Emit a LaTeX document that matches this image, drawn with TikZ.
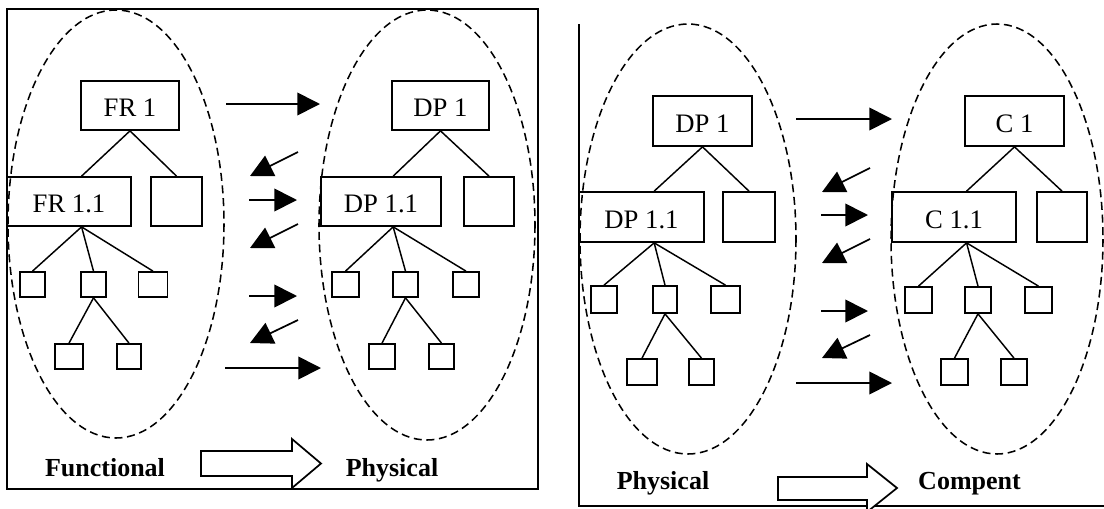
\documentclass[tikz,border=0pt]{standalone}
\usepackage{fontspec}
\setmainfont{Liberation Serif}
\usetikzlibrary{arrows.meta,calc}

\begin{document}
\begin{tikzpicture}[x=0.75pt,y=-0.75pt,
  box/.style={draw, line width=1.3pt, inner sep=0pt, text height=17pt, text depth=0pt,
              font=\fontsize{20}{22}\selectfont},
  sz/.style 2 args={minimum width=#1*0.75pt, minimum height=#2*0.75pt},
  link/.style={line width=1.1pt},
  zone/.style={draw, dash pattern=on 6pt off 3.5pt, line width=1.15pt},
  map/.style={line width=1.3pt, -{Triangle[length=17pt,width=17pt]}},
  caption/.style={font=\fontsize{19.5}{22}\selectfont\bfseries, anchor=base, inner sep=0pt},
  frame/.style={line width=1.5pt},
  bigarrow/.style={draw, fill=white, line width=1.3pt, line join=miter}
]
\useasboundingbox (0,0) rectangle (1104,508);

% ---------- frames ----------
\draw[frame] (7,9) rectangle (538,489);
\draw[frame] (579,24) -- (579,506) -- (1106,506);

% ---------- dashed domains ----------
\draw[zone] (116,224) ellipse [x radius=108, y radius=214];
\draw[zone] (427,225) ellipse [x radius=108, y radius=215];
\draw[zone] (688,239) ellipse [x radius=108, y radius=215];
\draw[zone] (997,239) ellipse [x radius=106, y radius=215];

% ---------- FR hierarchy ----------
\node[box, sz={98}{49}]  (fr1)  at (130,105.5)   {FR 1};
\node[box, sz={124}{49}] (fr11) at (69,201.5)    {FR 1.1};
\node[box, sz={51}{49}]  (fre)  at (176.5,201.5) {};
\node[box, sz={25}{25}]  (f1)   at (32.5,284.5)  {};
\node[box, sz={25}{25}]  (f2)   at (93.5,284.5)  {};
\node[box, sz={29}{25}]  (f3)   at (153,284.5)   {};
\node[box, sz={28}{25}]  (f4)   at (69,356.5)    {};
\node[box, sz={24}{25}]  (f5)   at (129,356.5)   {};
\draw[link] (fr1.south) -- ($(fr11.north west)!0.6!(fr11.north east)$);
\draw[link] (fr1.south) -- (fre.north);
\draw[link] ($(fr11.south west)!0.6!(fr11.south east)$) -- (f1.north);
\draw[link] ($(fr11.south west)!0.6!(fr11.south east)$) -- (f2.north);
\draw[link] ($(fr11.south west)!0.6!(fr11.south east)$) -- (f3.north);
\draw[link] (f2.south) -- (f4.north);
\draw[link] (f2.south) -- (f5.north);

% ---------- DP hierarchy (left panel) ----------
\node[box, sz={97}{49}]  (dp1)  at (440.5,105.5) {DP 1};
\node[box, sz={120}{49}] (dp11) at (381,201.5)   {DP 1.1};
\node[box, sz={50}{49}]  (dpe)  at (489,201.5)   {};
\node[box, sz={27}{25}]  (d1)   at (345.5,284.5) {};
\node[box, sz={25}{25}]  (d2)   at (405.5,284.5) {};
\node[box, sz={26}{25}]  (d3)   at (466,284.5)   {};
\node[box, sz={26}{25}]  (d4)   at (382,356.5)   {};
\node[box, sz={25}{25}]  (d5)   at (441.5,356.5) {};
\draw[link] (dp1.south) -- ($(dp11.north west)!0.6!(dp11.north east)$);
\draw[link] (dp1.south) -- (dpe.north);
\draw[link] ($(dp11.south west)!0.6!(dp11.south east)$) -- (d1.north);
\draw[link] ($(dp11.south west)!0.6!(dp11.south east)$) -- (d2.north);
\draw[link] ($(dp11.south west)!0.6!(dp11.south east)$) -- (d3.north);
\draw[link] (d2.south) -- (d4.north);
\draw[link] (d2.south) -- (d5.north);

% ---------- DP hierarchy (right panel) ----------
\node[box, sz={99}{50}]  (rdp1)  at (702.5,121) {DP 1};
\node[box, sz={125}{50}] (rdp11) at (641.5,217) {DP 1.1};
\node[box, sz={52}{50}]  (rdpe)  at (749,217)   {};
\node[box, sz={26}{27}]  (r1)    at (604,299.5)   {};
\node[box, sz={24}{27}]  (r2)    at (665,299.5)   {};
\node[box, sz={29}{27}]  (r3)    at (725.5,299.5) {};
\node[box, sz={30}{26}]  (r4)    at (642,372)     {};
\node[box, sz={25}{26}]  (r5)    at (701.5,372)   {};
\draw[link] (rdp1.south) -- ($(rdp11.north west)!0.6!(rdp11.north east)$);
\draw[link] (rdp1.south) -- (rdpe.north);
\draw[link] ($(rdp11.south west)!0.6!(rdp11.south east)$) -- (r1.north);
\draw[link] ($(rdp11.south west)!0.6!(rdp11.south east)$) -- (r2.north);
\draw[link] ($(rdp11.south west)!0.6!(rdp11.south east)$) -- (r3.north);
\draw[link] (r2.south) -- (r4.north);
\draw[link] (r2.south) -- (r5.north);

% ---------- component hierarchy ----------
\node[box, sz={99}{50}]  (c1)  at (1014.5,121) {C 1\hspace{13pt}};
\node[box, sz={124}{50}] (c11) at (954,217)    {C 1.1\hspace{14pt}};
\node[box, sz={50}{50}]  (ce)  at (1062,217)   {};
\node[box, sz={27}{26}]  (k1)  at (918.5,300)  {};
\node[box, sz={26}{26}]  (k2)  at (978,300)    {};
\node[box, sz={27}{26}]  (k3)  at (1038.5,300) {};
\node[box, sz={27}{26}]  (k4)  at (954.5,372)  {};
\node[box, sz={26}{26}]  (k5)  at (1014,372)   {};
\draw[link] (c1.south) -- ($(c11.north west)!0.6!(c11.north east)$);
\draw[link] (c1.south) -- (ce.north);
\draw[link] ($(c11.south west)!0.6!(c11.south east)$) -- (k1.north);
\draw[link] ($(c11.south west)!0.6!(c11.south east)$) -- (k2.north);
\draw[link] ($(c11.south west)!0.6!(c11.south east)$) -- (k3.north);
\draw[link] (k2.south) -- (k4.north);
\draw[link] (k2.south) -- (k5.north);

% ---------- mapping arrows, left panel ----------
\coordinate (la1s) at (226,104);   \coordinate (la1e) at (320,104);
\coordinate (la2s) at (298,152);   \coordinate (la2e) at (250,176);
\coordinate (la3s) at (249,200);   \coordinate (la3e) at (297,200);
\coordinate (la4s) at (298,224);   \coordinate (la4e) at (250,248);
\coordinate (la5s) at (249,296);   \coordinate (la5e) at (297,296);
\coordinate (la6s) at (298,320);   \coordinate (la6e) at (250,343);
\coordinate (la7s) at (225,368);   \coordinate (la7e) at (321,368);
\foreach \n in {1,...,7} \draw[map] (la\n s) -- (la\n e);

% ---------- mapping arrows, right panel ----------
\coordinate (ra1s) at (796,119);   \coordinate (ra1e) at (892,119);
\coordinate (ra2s) at (870,168);   \coordinate (ra2e) at (822,192);
\coordinate (ra3s) at (821,215);   \coordinate (ra3e) at (868,215);
\coordinate (ra4s) at (870,239);   \coordinate (ra4e) at (822,263);
\coordinate (ra5s) at (821,311);   \coordinate (ra5e) at (868,311);
\coordinate (ra6s) at (870,335);   \coordinate (ra6e) at (822,358);
\coordinate (ra7s) at (796,383);   \coordinate (ra7e) at (892,383);
\foreach \n in {1,...,7} \draw[map] (ra\n s) -- (ra\n e);

% ---------- hollow block arrows ----------
\draw[bigarrow] (201,451) -- (292,451) -- (292,439) -- (321,463.5) -- (292,488)
  -- (292,476) -- (201,476) -- cycle;
\draw[bigarrow] (778,477) -- (867,477) -- (867,464) -- (897,488) -- (867,512)
  -- (867,500) -- (778,500) -- cycle;

% ---------- captions ----------
\node[caption] (capfun)  at (105,476)   {Functional};
\node[caption] (capphy)  at (392,476)   {Physical};
\node[caption] (capphy2) at (663,489)   {Physical};
\node[caption] (capcom)  at (969.5,489) {Compent};
\end{tikzpicture}
\end{document}
